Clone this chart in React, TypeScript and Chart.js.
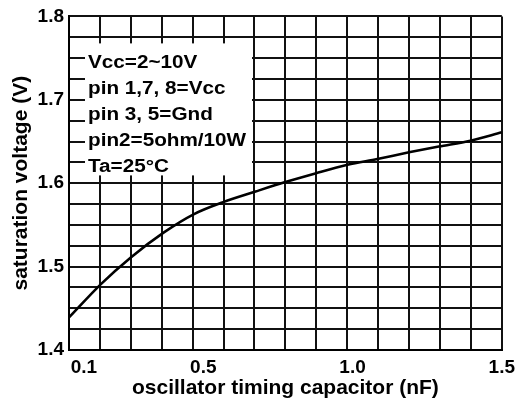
import React, { useEffect, useRef } from "react";
import { Chart, registerables } from "chart.js";

Chart.register(...registerables);

// Data
const capacitance = [0.05, 0.157, 0.257, 0.368, 0.469, 0.564, 0.675, 0.772, 0.878, 0.983, 1.083, 1.189, 1.289, 1.395, 1.5];
const voltage = [1.439, 1.479, 1.511, 1.541, 1.563, 1.577, 1.590, 1.601, 1.612, 1.622, 1.629, 1.637, 1.644, 1.651, 1.661];

const xMin = 0.05;
const xMax = 1.5;
const xGridDivisions = 14;
const xLabelTicks = [0.1, 0.5, 1.0, 1.5];

const yMin = 1.4;
const yMax = 1.8;
const yStep = 0.025;
const yLabelTicks = [1.4, 1.5, 1.6, 1.7, 1.8];

const noteLines = ["Vcc=2~10V", "pin 1,7, 8=Vcc", "pin 3, 5=Gnd", "pin2=5ohm/10W", "Ta=25°C"];

const FONT = "'Liberation Sans', Arial, Helvetica, sans-serif";

const xGridValues = Array.from({ length: xGridDivisions + 1 }, (_, i) => xMin + (i * (xMax - xMin)) / xGridDivisions);
const yGridValues = Array.from({ length: Math.round((yMax - yMin) / yStep) + 1 }, (_, i) => Math.round((yMin + i * yStep) * 1000) / 1000);

const near = (a: number, b: number) => Math.abs(a - b) < 1e-6;

const noteBox = {
  id: "noteBox",
  beforeDatasetsDraw(chart: any) {
    const { ctx, chartArea } = chart;
    const { left, top } = chartArea;
    ctx.save();
    ctx.fillStyle = "#ffffff";
    ctx.fillRect(left + 16, top + 27, 167, 132);
    ctx.fillStyle = "#000000";
    ctx.font = `bold 18px ${FONT}`;
    ctx.textBaseline = "alphabetic";
    ctx.textAlign = "left";
    noteLines.forEach((line, i) => {
      ctx.save();
      ctx.translate(left + 19, top + 51.5 + i * 26);
      ctx.scale(1.15, 1);
      ctx.fillText(line, 0, 0);
      ctx.restore();
    });
    ctx.restore();
  },
};

export default function App() {
  const canvasRef = useRef<HTMLCanvasElement | null>(null);

  useEffect(() => {
    if (!canvasRef.current) return;
    const chart = new Chart(canvasRef.current, {
      type: "line",
      data: {
        datasets: [
          {
            data: capacitance.map((x, i) => ({ x, y: voltage[i] })),
            borderColor: "#000000",
            borderWidth: 2.6,
            pointRadius: 0,
            fill: false,
            cubicInterpolationMode: "monotone",
          },
        ],
      },
      options: {
        animation: false,
        responsive: false,
        layout: { padding: { top: 13, right: 0, left: 0, bottom: 0 } },
        plugins: {
          legend: { display: false },
          tooltip: { enabled: false },
        },
        scales: {
          x: {
            type: "linear",
            min: xMin,
            max: xMax,
            afterBuildTicks: (scale: any) => {
              const vals = [...xGridValues];
              xLabelTicks.forEach((v) => {
                if (!vals.some((g) => near(g, v))) vals.push(v);
              });
              vals.sort((a, b) => a - b);
              scale.ticks = vals.map((value) => ({ value }));
            },
            afterFit: (scale: any) => {
              scale.height = 53;
            },
            grid: {
              drawTicks: false,
              lineWidth: 2,
              color: (ctx: any) =>
                ctx.tick && xGridValues.some((g) => near(g, ctx.tick.value)) ? "#111111" : "rgba(0,0,0,0)",
            },
            border: { display: true, color: "#000000", width: 2 },
            ticks: {
              autoSkip: false,
              maxRotation: 0,
              padding: 0,
              color: "#000000",
              font: { family: FONT, size: 19, weight: "bold", lineHeight: 1.85 },
              callback: (value: any) => {
                const v = Number(value);
                return xLabelTicks.some((l) => near(l, v)) ? v.toFixed(1) : "";
              },
            },
            title: {
              display: true,
              text: "oscillator timing capacitor (nF)",
              color: "#000000",
              font: { family: FONT, size: 21, weight: "bold" },
              padding: { top: 2, bottom: 2 },
            },
          },
          y: {
            type: "linear",
            min: yMin,
            max: yMax,
            afterBuildTicks: (scale: any) => {
              scale.ticks = yGridValues.map((value) => ({ value }));
            },
            afterFit: (scale: any) => {
              scale.width = 69;
            },
            grid: {
              drawTicks: false,
              lineWidth: 2,
              color: "#111111",
            },
            border: { display: true, color: "#000000", width: 2 },
            ticks: {
              autoSkip: false,
              padding: 5,
              color: "#000000",
              font: { family: FONT, size: 19, weight: "bold" },
              callback: (value: any) => {
                const v = Number(value);
                return yLabelTicks.some((l) => near(l, v)) ? v.toFixed(1) : "";
              },
            },
            title: {
              display: true,
              text: "saturation voltage (V)",
              color: "#000000",
              font: { family: FONT, size: 21, weight: "bold" },
              padding: { top: 9, bottom: 0 },
            },
          },
        },
      },
      plugins: [noteBox],
    } as any);
    return () => chart.destroy();
  }, []);

  return (
    <div style={{ position: "fixed", left: 0, top: 0, width: 515, height: 403, background: "#ffffff" }}>
      <canvas ref={canvasRef} width={515} height={403} style={{ display: "block" }} />
    </div>
  );
}
